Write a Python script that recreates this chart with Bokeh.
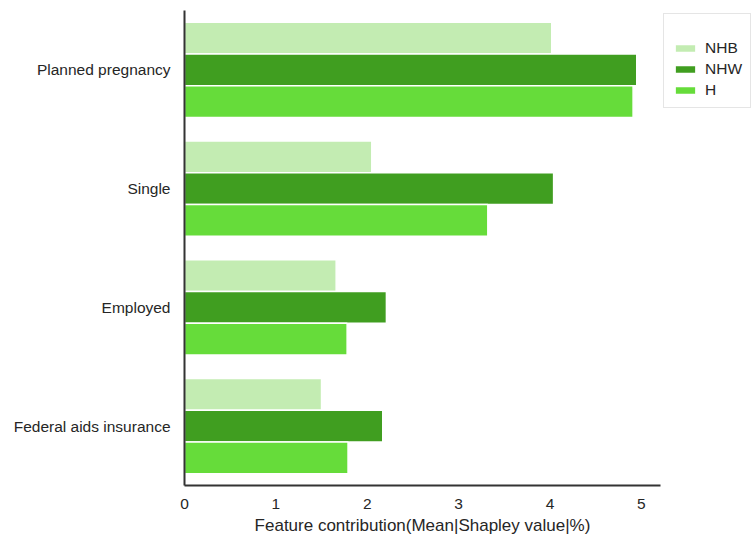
from bokeh.plotting import figure
from bokeh.models import FactorRange, Range1d, ColumnDataSource, Legend, LegendItem
from bokeh.transform import dodge
from bokeh.embed import file_html
from bokeh.resources import INLINE

# data
features = ["Planned pregnancy", "Single", "Employed", "Federal aids insurance"]
groups = ["NHB", "NHW", "H"]
nhb = [4.02, 2.05, 1.66, 1.50]
nhw = [4.95, 4.04, 2.21, 2.17]
h = [4.91, 3.32, 1.78, 1.79]
colors = ["#c3ecb2", "#409e20", "#66dc3a"]
x_label = "Feature contribution(Mean|Shapley value|%)"

FONT = "Liberation Sans"
TXT = "#262626"

src = ColumnDataSource(dict(feat=features, NHB=nhb, NHW=nhw, H=h))

p = figure(frame_width=476, frame_height=475, output_backend="svg", toolbar_location=None,
           y_range=FactorRange(*features[::-1], range_padding=0),
           x_range=Range1d(0, 5.21),
           min_border_left=184, min_border_top=10, min_border_bottom=0, min_border_right=0)

bar_h = 0.267
offsets = [bar_h, 0.0, -bar_h]
items = []
for g, c, off in zip(groups, colors, offsets):
    r = p.hbar(y=dodge("feat", off, range=p.y_range), right=g, left=0, height=bar_h,
               source=src, fill_color=c, line_color="white", line_width=1.5)
    items.append(LegendItem(label=g, renderers=[r]))

legend = Legend(items=items, location="top_left", title=" ",
                label_text_font=FONT, label_text_font_size="15.5px", label_text_color=TXT,
                title_text_font_size="11px",
                glyph_width=26, glyph_height=10, label_height=15, spacing=3,
                label_standoff=7, padding=8, margin=3,
                border_line_color="#cccccc", border_line_width=1,
                background_fill_color="white")
p.add_layout(legend, "right")

p.outline_line_color = None
p.xgrid.grid_line_color = None
p.ygrid.grid_line_color = None

for ax in (p.xaxis[0], p.yaxis[0]):
    ax.axis_line_color = "#333333"
    ax.axis_line_width = 2
    ax.major_tick_line_color = None
    ax.minor_tick_line_color = None
    ax.major_label_text_font = FONT
    ax.major_label_text_font_size = "15.5px"
    ax.major_label_text_color = TXT

p.xaxis.ticker = [0, 1, 2, 3, 4, 5]
p.xaxis.major_label_standoff = 7
p.yaxis.major_label_standoff = 8
p.xaxis.axis_label = x_label
p.xaxis.axis_label_text_font = FONT
p.xaxis.axis_label_text_font_size = "17px"
p.xaxis.axis_label_text_font_style = "normal"
p.xaxis.axis_label_text_color = TXT
p.xaxis.axis_label_standoff = 4

open("out.html", "w").write(file_html(p, INLINE))
